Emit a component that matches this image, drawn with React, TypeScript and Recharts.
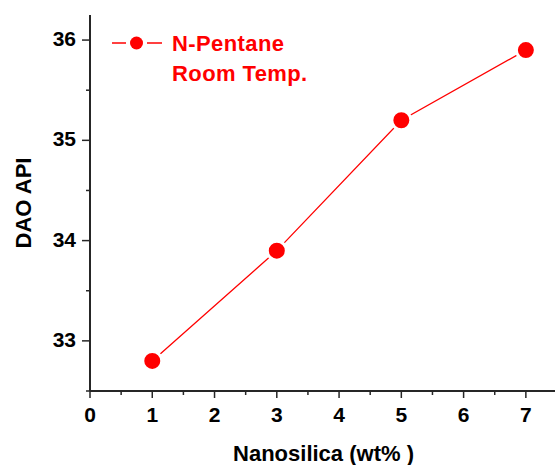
import React from 'react';
import { LineChart, Line, XAxis, YAxis } from 'recharts';

// Nanosilica loading (wt%) and the resulting DAO API gravity
const loadings = [1, 3, 5, 7];
const daoApi = [32.8, 33.9, 35.2, 35.9];

const xTicks = [0, 0.5, 1, 1.5, 2, 2.5, 3, 3.5, 4, 4.5, 5, 5.5, 6, 6.5, 7, 7.5];
const yTicks = [32.5, 33, 33.5, 34, 34.5, 35, 35.5, 36];

const seriesName = ['N-Pentane', 'Room Temp.'];

const data = loadings.map((x, i) => ({ x, api: daoApi[i] }));

const FONT = '"Liberation Sans", Arial, sans-serif';
const AXIS = '#262626';
const RED = '#ff0000';

const XTick = (props: any) => {
  const { x, y, payload } = props;
  const v = payload.value as number;
  const major = Number.isInteger(v);
  return (
    <g>
      <line x1={x} x2={x} y1={y} y2={y + (major ? 7 : 4)} stroke={AXIS} strokeWidth={1.5} />
      {major && (
        <text x={x} y={y + 31} textAnchor="middle" fontFamily={FONT} fontWeight="bold" fontSize={21} fill="#000">
          {v}
        </text>
      )}
    </g>
  );
};

const YTick = (props: any) => {
  const { x, y, payload } = props;
  const v = payload.value as number;
  const major = Number.isInteger(v);
  return (
    <g>
      <line x1={x} x2={x - (major ? 8 : 4)} y1={y} y2={y} stroke={AXIS} strokeWidth={1.5} />
      {major && (
        <text x={x - 14} y={y + 6} textAnchor="end" fontFamily={FONT} fontWeight="bold" fontSize={21} fill="#000">
          {v}
        </text>
      )}
    </g>
  );
};

// Series key drawn in the upper-left corner of the plot
const LegendBox = () => (
  <svg width={220} height={70} style={{ position: 'absolute', left: 108, top: 28, overflow: 'visible' }}>
    <line x1={4} x2={18} y1={15} y2={15} stroke={RED} strokeWidth={1.5} />
    <circle cx={28.5} cy={15} r={6.5} fill={RED} />
    <line x1={39} x2={54} y1={15} y2={15} stroke={RED} strokeWidth={1.5} />
    <text x={64} y={23} fontFamily={FONT} fontWeight="bold" fontSize={22} letterSpacing={0.4} fill={RED}>
      {seriesName[0]}
    </text>
    <text x={64} y={53} fontFamily={FONT} fontWeight="bold" fontSize={22} letterSpacing={0.4} fill={RED}>
      {seriesName[1]}
    </text>
  </svg>
);

const Dot = (props: any) => {
  const { cx, cy } = props;
  return <circle cx={cx} cy={cy} r={9.5} fill={RED} stroke="#fff" strokeWidth={3} />;
};

export default function App() {
  return (
    <div style={{ position: 'absolute', left: 0, top: 0, width: 555, height: 465, overflow: 'hidden', background: '#fff' }}>
      <LineChart width={557} height={465} data={data} margin={{ top: 15, right: 0, bottom: 0, left: 0 }}>
        <XAxis
          dataKey="x"
          type="number"
          domain={[0, 7.5]}
          ticks={xTicks}
          interval={0}
          height={74}
          tickSize={0}
          tickMargin={0}
          tickLine={false}
          tick={<XTick />}
          axisLine={{ stroke: AXIS, strokeWidth: 2 }}
          label={{
            content: (p: any) => {
              const vb = p.viewBox;
              return (
                <text x={vb.x + vb.width / 2} y={461} textAnchor="middle" fontFamily={FONT} fontWeight="bold" fontSize={22} fill="#000">
                  Nanosilica (wt% )
                </text>
              );
            },
          }}
        />
        <XAxis xAxisId="top" orientation="top" dataKey="x" type="number" domain={[0, 7.5]} height={0} tick={false} tickLine={false} axisLine={{ stroke: AXIS, strokeWidth: 2 }} />
        <YAxis
          type="number"
          domain={[32.5, 36.25]}
          ticks={yTicks}
          interval={0}
          width={90}
          tickSize={0}
          tickMargin={0}
          tickLine={false}
          tick={<YTick />}
          axisLine={{ stroke: AXIS, strokeWidth: 2 }}
          label={{
            content: (p: any) => {
              const vb = p.viewBox;
              const cy = vb.y + vb.height / 2;
              return (
                <text x={23} y={cy} transform={`rotate(-90 23 ${cy})`} textAnchor="middle" dominantBaseline="central" fontFamily={FONT} fontWeight="bold" fontSize={22} fill="#000">
                  DAO API
                </text>
              );
            },
          }}
        />
        <YAxis yAxisId="right" orientation="right" type="number" domain={[32.5, 36.25]} width={0} tick={false} tickLine={false} axisLine={{ stroke: AXIS, strokeWidth: 2 }} />
        <Line
          dataKey="api"
          name={seriesName.join(' ')}
          stroke={RED}
          strokeWidth={1.3}
          dot={<Dot />}
          activeDot={false}
          isAnimationActive={false}
        />
      </LineChart>
      <LegendBox />
    </div>
  );
}
